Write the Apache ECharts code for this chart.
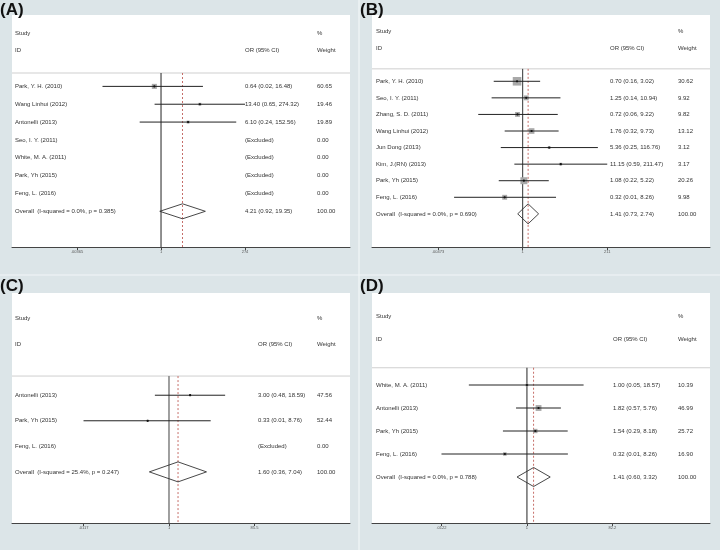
<!DOCTYPE html>
<html><head><meta charset="utf-8">
<script src="https://cdn.jsdelivr.net/npm/echarts@6/dist/echarts.min.js"></script>
<style>html,body{margin:0;padding:0;background:#dce5e8}#c{width:720px;height:550px}</style>
</head><body><div id="c"></div>
<script>
// ---------- Panel A ----------
const studiesA = ['Park, Y. H. (2010)', 'Wang Linhui (2012)', 'Antonelli (2013)', 'Seo, I. Y. (2011)', 'White, M. A. (2011)', 'Park, Yh (2015)', 'Feng, L. (2016)'];
const orA = [0.64, 13.40, 6.10, null, null, null, null];
const loA = [0.02, 0.65, 0.24, null, null, null, null];
const hiA = [16.48, 274.32, 152.56, null, null, null, null];
const weightA = [60.65, 19.46, 19.89, 0, 0, 0, 0];
const overallA = [4.21, 0.92, 19.35];
const overallLabelA = 'Overall  (I-squared = 0.0%, p = 0.385)';
const tickValuesA = [0.00365, 1, 274];
const tickLabelsA = ['.00365', '1', '274'];

// ---------- Panel B ----------
const studiesB = ['Park, Y. H. (2010)', 'Seo, I. Y. (2011)', 'Zhang, S. D. (2011)', 'Wang Linhui (2012)', 'Jun Dong (2013)', 'Kim, J.(RN) (2013)', 'Park, Yh (2015)', 'Feng, L. (2016)'];
const orB = [0.70, 1.25, 0.72, 1.76, 5.36, 11.15, 1.08, 0.32];
const loB = [0.16, 0.14, 0.06, 0.32, 0.25, 0.59, 0.22, 0.013];
const hiB = [3.02, 10.94, 9.22, 9.73, 116.76, 211.47, 5.22, 8.26];
const weightB = [30.62, 9.92, 9.82, 13.12, 3.12, 3.17, 20.26, 9.98];
const overallB = [1.41, 0.73, 2.74];
const overallLabelB = 'Overall  (I-squared = 0.0%, p = 0.690)';
const tickValuesB = [0.00473, 1, 211];
const tickLabelsB = ['.00473', '1', '211'];

// ---------- Panel C ----------
const studiesC = ['Antonelli (2013)', 'Park, Yh (2015)', 'Feng, L. (2016)'];
const orC = [3.00, 0.33, null];
const loC = [0.48, 0.0117, null];
const hiC = [18.59, 8.76, null];
const weightC = [47.56, 52.44, 0];
const overallC = [1.60, 0.36, 7.04];
const overallLabelC = 'Overall  (I-squared = 25.4%, p = 0.247)';
const tickValuesC = [0.0117, 1, 85.5];
const tickLabelsC = ['.0117', '1', '85.5'];

// ---------- Panel D ----------
const studiesD = ['White, M. A. (2011)', 'Antonelli (2013)', 'Park, Yh (2015)', 'Feng, L. (2016)'];
const orD = [1.00, 1.82, 1.54, 0.32];
const loD = [0.05, 0.57, 0.29, 0.0122];
const hiD = [18.57, 5.76, 8.18, 8.26];
const weightD = [10.39, 46.99, 25.72, 16.90];
const overallD = [1.41, 0.60, 3.32];
const overallLabelD = 'Overall  (I-squared = 0.0%, p = 0.788)';
const tickValuesD = [0.0122, 1, 82.2];
const tickLabelsD = ['.0122', '1', '82.2'];

// ---------- layout / style per panel ----------
const panels = [
  {studies: studiesA, or: orA, lo: loA, hi: hiA, w: weightA, overall: overallA, overallLabel: overallLabelA, ticks: tickValuesA, tickLabels: tickLabelsA,
   grid: {left: 12, top: 15, width: 338, height: 232}, xmin: -9.96, xmax: 12.63, off: [3, 233, 305], box: 0.65, dia: 7.5, refColor: '#222', refWidth: 1},
  {studies: studiesB, or: orB, lo: loB, hi: hiB, w: weightB, overall: overallB, overallLabel: overallLabelB, ticks: tickValuesB, tickLabels: tickLabelsB,
   grid: {left: 372, top: 15, width: 338, height: 232}, xmin: -9.54, xmax: 11.86, off: [4, 238, 306], box: 1.55, dia: 10, refColor: '#333', refWidth: 1},
  {studies: studiesC, or: orC, lo: loC, hi: hiC, w: weightC, overall: overallC, overallLabel: overallLabelC, ticks: tickValuesC, tickLabels: tickLabelsC,
   grid: {left: 12, top: 293, width: 338, height: 230}, xmin: -8.17, xmax: 9.42, off: [3, 246, 305], box: 0.3, dia: 10, refColor: '#888', refWidth: 1.6},
  {studies: studiesD, or: orD, lo: loD, hi: hiD, w: weightD, overall: overallD, overallLabel: overallLabelD, ticks: tickValuesD, tickLabels: tickLabelsD,
   grid: {left: 372, top: 293, width: 338, height: 230}, xmin: -7.99, xmax: 9.44, off: [4, 241, 306], box: 0.85, dia: 9.5, refColor: '#222', refWidth: 1}
];

const FONT = '6px "Liberation Sans", Arial, sans-serif';
const TXT = '#333';
const fmt = v => v.toFixed(2);

const grids = [], xAxes = [], yAxes = [], series = [];

panels.forEach((P, k) => {
  const nStudies = P.studies.length;
  const overallRow = nStudies;
  const yMax = nStudies + 2;
  const ticksLn = P.ticks.map(v => Math.log(v));
  grids.push(Object.assign({show: true, backgroundColor: '#ffffff', borderWidth: 0, containLabel: false}, P.grid));
  xAxes.push({
    type: 'value', gridIndex: k, min: P.xmin, max: P.xmax, position: 'bottom',
    axisLine: {show: true, onZero: false, lineStyle: {color: '#444', width: 1}},
    axisTick: {show: true, customValues: ticksLn, length: 3, lineStyle: {color: '#444'}},
    axisLabel: {show: true, customValues: ticksLn, fontSize: 4, color: '#555', margin: 3,
      fontFamily: '"Liberation Sans", Arial',
      formatter: v => { for (let i = 0; i < ticksLn.length; i++) if (Math.abs(ticksLn[i] - v) < 1e-6) return P.tickLabels[i]; return ''; }},
    splitLine: {show: false}
  });
  yAxes.push({type: 'value', gridIndex: k, inverse: true, min: -4, max: yMax, show: false, splitLine: {show: false}});

  // reference lines + separator
  const refOverall = Math.log(P.overall[0]);
  series.push({
    type: 'custom', xAxisIndex: k, yAxisIndex: k, silent: true, animation: false, z: 1,
    data: [[0, -0.75]],
    renderItem: (params, api) => {
      const cs = params.coordSys;
      const sepY = api.coord([0, -0.75])[1];
      const top1 = api.coord([0, -0.75]);
      const bot1 = api.coord([0, yMax]);
      const top2 = api.coord([refOverall, -0.75]);
      const bot2 = api.coord([refOverall, yMax]);
      return {type: 'group', children: [
        {type: 'line', shape: {x1: cs.x, y1: sepY, x2: cs.x + cs.width, y2: sepY}, style: {stroke: '#cfcfcf', lineWidth: 1}},
        {type: 'line', shape: {x1: top1[0], y1: top1[1], x2: bot1[0], y2: bot1[1]}, style: {stroke: P.refColor, lineWidth: P.refWidth}},
        {type: 'line', shape: {x1: top2[0], y1: top2[1], x2: bot2[0], y2: bot2[1]}, style: {stroke: '#c0605a', lineWidth: 0.9, lineDash: [2, 2]}}
      ]};
    }
  });

  // study markers
  const markData = [];
  P.studies.forEach((s, i) => {
    if (P.or[i] != null) markData.push([Math.log(P.or[i]), Math.log(P.lo[i]), Math.log(P.hi[i]), i, P.w[i]]);
  });
  series.push({
    type: 'custom', xAxisIndex: k, yAxisIndex: k, silent: true, animation: false, z: 3,
    encode: {x: [0, 1, 2], y: 3},
    data: markData,
    renderItem: (params, api) => {
      const r = api.value(3);
      const p = api.coord([api.value(0), r]);
      const pl = api.coord([api.value(1), r]);
      const ph = api.coord([api.value(2), r]);
      const s = P.box * Math.sqrt(api.value(4));
      return {type: 'group', children: [
        {type: 'rect', shape: {x: p[0] - s / 2, y: p[1] - s / 2, width: s, height: s}, style: {fill: '#a9a9a9'}},
        {type: 'line', shape: {x1: pl[0], y1: pl[1], x2: ph[0], y2: ph[1]}, style: {stroke: '#222', lineWidth: 1}},
        {type: 'circle', shape: {cx: p[0], cy: p[1], r: 1.1}, style: {fill: '#111'}}
      ]};
    }
  });

  // overall diamond
  series.push({
    type: 'custom', xAxisIndex: k, yAxisIndex: k, silent: true, animation: false, z: 3,
    data: [[Math.log(P.overall[0]), Math.log(P.overall[1]), Math.log(P.overall[2]), overallRow]],
    encode: {x: [0, 1, 2], y: 3},
    renderItem: (params, api) => {
      const r = api.value(3);
      const c = api.coord([api.value(0), r]);
      const l = api.coord([api.value(1), r]);
      const h = api.coord([api.value(2), r]);
      return {type: 'polygon', shape: {points: [[l[0], l[1]], [c[0], c[1] - P.dia], [h[0], h[1]], [c[0], c[1] + P.dia]]},
        style: {fill: 'rgba(0,0,0,0)', stroke: '#333', lineWidth: 0.9}};
    }
  });

  // text rows
  const rows = [];
  rows.push({y: -3, cols: ['Study', '', '%']});
  rows.push({y: -2, cols: ['ID', 'OR (95% CI)', 'Weight']});
  P.studies.forEach((s, i) => {
    const orTxt = P.or[i] == null ? '(Excluded)' : `${fmt(P.or[i])} (${fmt(P.lo[i])}, ${fmt(P.hi[i])})`;
    rows.push({y: i, cols: [s, orTxt, fmt(P.w[i])]});
  });
  rows.push({y: overallRow, cols: [P.overallLabel, `${fmt(P.overall[0])} (${fmt(P.overall[1])}, ${fmt(P.overall[2])})`, '100.00']});
  series.push({
    type: 'custom', xAxisIndex: k, yAxisIndex: k, silent: true, animation: false, z: 4,
    data: rows.map(r => [P.xmin, r.y]),
    renderItem: (params, api) => {
      const row = rows[params.dataIndex];
      const y = api.coord([P.xmin, row.y])[1];
      const x0 = params.coordSys.x;
      return {type: 'group', children: row.cols.map((t, j) => ({
        type: 'text', x: x0 + P.off[j], y: y,
        style: {text: t, font: FONT, fill: TXT, textAlign: 'left', textVerticalAlign: 'middle'}
      }))};
    }
  });
});

const labelFont = 'bold 17px "Liberation Sans", Arial, sans-serif';
const chart = echarts.init(document.getElementById('c'), null, {renderer: 'canvas'});
chart.setOption({
  backgroundColor: '#dce5e8',
  animation: false,
  grid: grids, xAxis: xAxes, yAxis: yAxes, series: series,
  graphic: [
    {type: 'line', shape: {x1: 359, y1: 0, x2: 359, y2: 550}, style: {stroke: '#f2f6f7', lineWidth: 1.2}},
    {type: 'line', shape: {x1: 0, y1: 275, x2: 720, y2: 275}, style: {stroke: '#f2f6f7', lineWidth: 1.2}},
    {type: 'text', x: 0, y: 2, style: {text: '(A)', font: labelFont, fill: '#111', verticalAlign: 'top', textVerticalAlign: 'top'}},
    {type: 'text', x: 360, y: 2, style: {text: '(B)', font: labelFont, fill: '#111', verticalAlign: 'top', textVerticalAlign: 'top'}},
    {type: 'text', x: 0, y: 278, style: {text: '(C)', font: labelFont, fill: '#111', verticalAlign: 'top', textVerticalAlign: 'top'}},
    {type: 'text', x: 360, y: 278, style: {text: '(D)', font: labelFont, fill: '#111', verticalAlign: 'top', textVerticalAlign: 'top'}}
  ]
});
</script></body></html>
